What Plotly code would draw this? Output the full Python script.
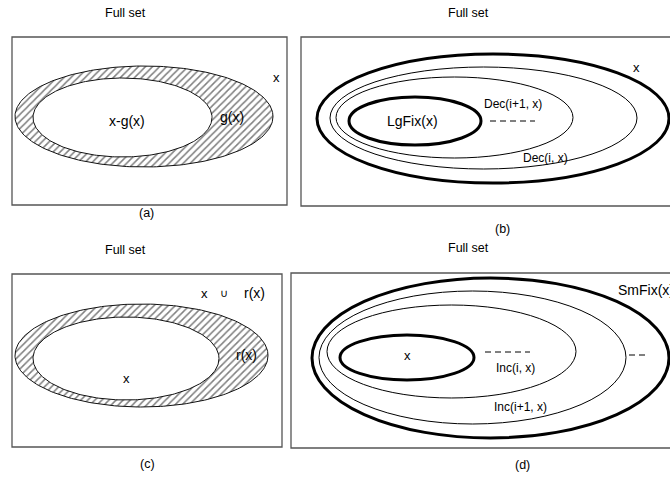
import numpy as np
import plotly.graph_objects as go

W, H = 670, 477

# Panel frames: (x0, y0, x1, y1) in pixel space
panel_frames = [(12, 37, 287, 205), (301, 37, 672, 206), (12, 274, 282, 447), (291, 273, 672, 448)]

# Hatched set diagrams (outer bounds, inner bounds) for panels a and c
hatched_outer = [(15, 66, 273, 167), (15, 304, 268, 407)]
hatched_inner = [(33, 78, 212, 157), (33, 317, 219, 400)]

# Nested outline ellipses for panels b and d: (x0, y0, x1, y1, line width)
nested_b = [(317, 54, 669, 183, 3), (330, 67, 637, 169, 1), (336, 77, 573, 158, 1), (349, 97, 481, 145, 3)]
nested_d = [(312, 278, 669, 438, 3), (319, 291, 626, 424, 1), (327, 305, 576, 398, 1), (340, 335, 474, 380, 3)]

# Dashed ellipsis markers: (x0, x1, y)
dash_marks = [(490, 535, 121), (485, 530, 352), (629, 647, 355)]

# Text labels: (text, x, y, size, anchor)
labels = [
    ("Full set", 125, 13, 12.5, "center"), ("Full set", 468, 13, 12.5, "center"),
    ("Full set", 125, 250, 12.5, "center"), ("Full set", 468, 248, 12.5, "center"),
    ("(a)", 146, 213, 12.5, "center"), ("(b)", 502, 229, 12.5, "center"),
    ("(c)", 147, 464, 12.5, "center"), ("(d)", 522, 465, 12.5, "center"),
    ("x", 276, 77, 13, "center"), ("x-g(x)", 127, 121, 14, "center"), ("g(x)", 232, 117, 14, "center"),
    ("LgFix(x)", 412, 121, 14, "center"), ("Dec(i+1, x)", 513, 104, 12, "center"),
    ("Dec(i, x)", 545, 158, 12, "center"), ("x", 636, 67, 13, "center"),
    ("x", 204, 293, 13, "center"), ("∪", 224, 293, 11, "center"), ("r(x)", 254, 293, 14, "center"),
    ("r(x)", 246, 355, 14, "center"), ("x", 126, 378, 13, "center"),
    ("SmFix(x)", 616, 290, 14, "left"), ("x", 407, 355, 13, "center"),
    ("Inc(i, x)", 515, 368, 12, "center"), ("Inc(i+1, x)", 520, 407, 12, "center"),
]

FONT = "Liberation Sans, Arial, sans-serif"


def ellipse_path(b, n=240):
    x0, y0, x1, y1 = b[:4]
    cx, cy, rx, ry = (x0 + x1) / 2, (y0 + y1) / 2, (x1 - x0) / 2, (y1 - y0) / 2
    t = np.linspace(0, 2 * np.pi, n)
    return cx + rx * np.cos(t), cy + ry * np.sin(t)


fig = go.Figure()

for ob, ib in zip(hatched_outer, hatched_inner):
    xs, ys = ellipse_path(ob)
    fig.add_trace(go.Scatter(x=xs, y=ys, mode="lines", fill="toself",
                             fillcolor="white",
                             fillpattern=dict(shape="/", fgcolor="black", bgcolor="white", size=5, solidity=0.3),
                             line=dict(color="#111", width=1), hoverinfo="skip", showlegend=False))
    xs, ys = ellipse_path(ib)
    fig.add_trace(go.Scatter(x=xs, y=ys, mode="lines", fill="toself", fillcolor="white",
                             line=dict(color="#111", width=1), hoverinfo="skip", showlegend=False))

shapes = []
for (x0, y0, x1, y1) in panel_frames:
    shapes.append(dict(type="rect", xref="x", yref="y", x0=x0, y0=y0, x1=x1, y1=y1,
                       line=dict(color="#555", width=1.3), layer="below"))
for (x0, y0, x1, y1, w) in nested_b + nested_d:
    shapes.append(dict(type="circle", xref="x", yref="y", x0=x0, y0=y0, x1=x1, y1=y1,
                       line=dict(color="black", width=w)))
for (x0, x1, y) in dash_marks:
    shapes.append(dict(type="line", xref="x", yref="y", x0=x0, x1=x1, y0=y, y1=y,
                       line=dict(color="black", width=1, dash="6px,4px")))

annotations = []
for (t, x, y, s, a) in labels:
    annotations.append(dict(text=t, x=x, y=y, xref="x", yref="y", showarrow=False,
                            xanchor=a, yanchor="middle", font=dict(family=FONT, size=s, color="black")))

fig.update_layout(
    width=W, height=H, margin=dict(l=0, r=0, t=0, b=0),
    paper_bgcolor="white", plot_bgcolor="white",
    xaxis=dict(range=[0, W], visible=False, fixedrange=True),
    yaxis=dict(range=[H, 0], visible=False, fixedrange=True),
    shapes=shapes, annotations=annotations, showlegend=False,
)

fig.write_html("out.html", config={"displayModeBar": False},
               post_script="document.body.style.margin='0px';document.body.style.overflow='hidden';")
